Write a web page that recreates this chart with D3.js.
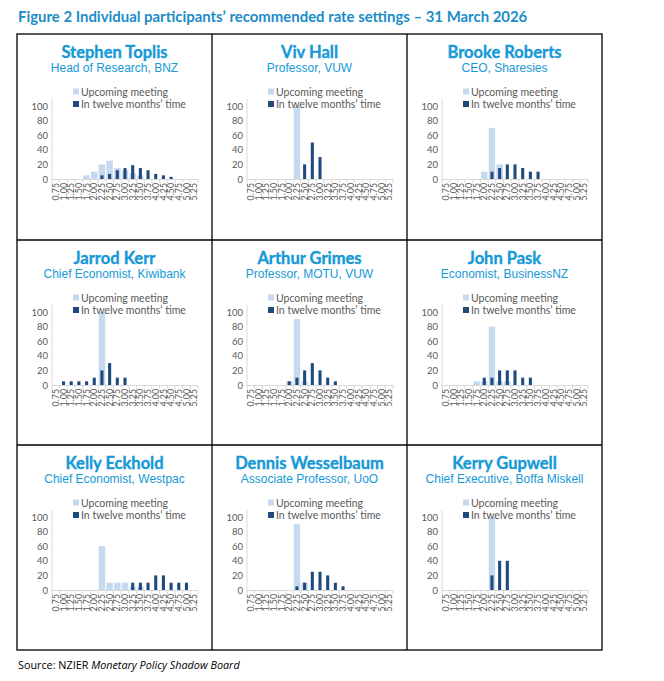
<!DOCTYPE html>
<html>
<head>
<meta charset="utf-8">
<script src="https://cdn.jsdelivr.net/npm/d3@7"></script>
<style>
  html, body { margin: 0; padding: 0; background: #fff; }
  svg { display: block; }
</style>
</head>
<body>
<svg id="chart" width="664" height="681"></svg>
<script>
// ---------- DATA ----------
const rates = ["0.75","1.00","1.25","1.50","1.75","2.00","2.25","2.50","2.75","3.00",
               "3.25","3.50","3.75","4.00","4.25","4.50","4.75","5.00","5.25"];
const yTicks = [0, 20, 40, 60, 80, 100];
const seriesNames = ["Upcoming meeting", "In twelve months\u2019 time"];
const names = ["Stephen Toplis", "Viv Hall", "Brooke Roberts",
               "Jarrod Kerr", "Arthur Grimes", "John Pask",
               "Kelly Eckhold", "Dennis Wesselbaum", "Kerry Gupwell"];
const roles = ["Head of Research, BNZ", "Professor, VUW", "CEO, Sharesies",
               "Chief Economist, Kiwibank", "Professor, MOTU, VUW", "Economist, BusinessNZ",
               "Chief Economist, Westpac", "Associate Professor, UoO", "Chief Executive, Boffa Miskell"];
//                 0.75 1.00 1.25 1.50 1.75 2.00 2.25 2.50 2.75 3.00 3.25 3.50 3.75 4.00 4.25 4.50 4.75 5.00 5.25
const upcoming = [
  [0,0,0,0, 5,10,20,25,15,12, 8, 5, 0, 0, 0, 0, 0, 0, 0],
  [0,0,0,0, 0, 0,100,0, 0, 0, 0, 0, 0, 0, 0, 0, 0, 0, 0],
  [0,0,0,0, 0,10,70,20, 0, 0, 0, 0, 0, 0, 0, 0, 0, 0, 0],
  [0,0,0,0, 0, 0,100,0, 0, 0, 0, 0, 0, 0, 0, 0, 0, 0, 0],
  [0,0,0,0, 0, 5,90, 5, 0, 0, 0, 0, 0, 0, 0, 0, 0, 0, 0],
  [0,0,0,0, 5, 5,80, 5, 5, 0, 0, 0, 0, 0, 0, 0, 0, 0, 0],
  [0,0,0,0, 0, 0,60,10,10,10, 5, 5, 0, 0, 0, 0, 0, 0, 0],
  [0,0,0,0, 0, 0,90,10, 0, 0, 0, 0, 0, 0, 0, 0, 0, 0, 0],
  [0,0,0,0, 0, 0,100,0, 0, 0, 0, 0, 0, 0, 0, 0, 0, 0, 0]
];
const twelveMonths = [
  [0,0,0,0, 0, 0, 5, 7,12,15,19,15,12, 7, 5, 3, 0, 0, 0],
  [0,0,0,0, 0, 0, 0,20,50,30, 0, 0, 0, 0, 0, 0, 0, 0, 0],
  [0,0,0,0, 0, 0,10,15,20,20,15,10,10, 0, 0, 0, 0, 0, 0],
  [0,5,5,5, 5,10,20,30,10,10, 0, 0, 0, 0, 0, 0, 0, 0, 0],
  [0,0,0,0, 0, 5,10,20,30,20,10, 5, 0, 0, 0, 0, 0, 0, 0],
  [0,0,0,0, 0,10,10,20,20,20,10,10, 0, 0, 0, 0, 0, 0, 0],
  [0,0,0,0, 0, 0, 0, 0, 0, 0,10,10,10,20,20,10,10,10, 0],
  [0,0,0,0, 0, 0, 5,10,25,25,20,10, 5, 0, 0, 0, 0, 0, 0],
  [0,0,0,0, 0, 0,20,40,40, 0, 0, 0, 0, 0, 0, 0, 0, 0, 0]
];
const titleText = "Figure 2 Individual participants\u2019 recommended rate settings \u2013 31 March 2026";

// ---------- STYLE / LAYOUT ----------
const blue = "#1699d6";
const lightBar = "#c6d9f0";
const darkBar = "#1f4a7c";
const axisGrey = "#d9d9d9";
const labelGrey = "#595959";
const colX = [17, 212, 407];
const rowY = [34, 240, 445];
const cellW = 195, bottomY = 650;

const svg = d3.select("#chart");

// Title
const title = svg.append("text")
  .attr("x", 18).attr("y", 22)
  .attr("font-family", "Lato, 'Open Sans', sans-serif")
  .attr("font-weight", "bold")
  .attr("font-size", 15)
  .attr("fill", "#1b8cc8")
  .text(titleText);
const tw = title.node().getComputedTextLength();
title.attr("font-size", 15 * 510 / tw);

// Grid borders
const gridG = svg.append("g").attr("stroke", "#000").attr("stroke-width", 1.3).attr("fill", "none");
gridG.append("rect").attr("x", colX[0]).attr("y", rowY[0])
  .attr("width", colX[2] + cellW - colX[0]).attr("height", bottomY - rowY[0]);
[colX[1], colX[2]].forEach(x => gridG.append("line").attr("x1", x).attr("x2", x).attr("y1", rowY[0]).attr("y2", bottomY));
[rowY[1], rowY[2]].forEach(y => gridG.append("line").attr("y1", y).attr("y2", y).attr("x1", colX[0]).attr("x2", colX[2] + cellW));

// Panels
names.forEach((name, i) => {
  const px = colX[i % 3], py = rowY[Math.floor(i / 3)];
  const g = svg.append("g").attr("transform", `translate(${px},${py})`);

  g.append("text").attr("x", cellW / 2).attr("y", 23.5)
    .attr("text-anchor", "middle")
    .attr("font-family", "Lato, sans-serif").attr("font-weight", "bold")
    .attr("font-size", 16.5).attr("fill", blue)
    .attr("stroke", blue).attr("stroke-width", 0.35)
    .text(name);
  g.append("text").attr("x", cellW / 2).attr("y", 38)
    .attr("text-anchor", "middle")
    .attr("font-family", "'Liberation Sans', Arial, sans-serif")
    .attr("font-size", 12).attr("fill", blue).text(roles[i]);

  const left = 35, right = 181, y0 = 145, y100 = 72;
  const x = d3.scaleBand().domain(rates).range([left, right]).paddingInner(0).paddingOuter(0);
  const y = d3.scaleLinear().domain([0, 100]).range([y0, y100]);
  const bw = x.bandwidth();

  // light bars
  g.append("g").selectAll("rect").data(upcoming[i].map((v, k) => ({r: rates[k], v})).filter(d => d.v > 0))
    .join("rect")
    .attr("x", d => x(d.r) + bw * 0.08).attr("width", bw * 0.84)
    .attr("y", d => y(d.v)).attr("height", d => y0 - y(d.v))
    .attr("fill", lightBar);
  // dark bars
  g.append("g").selectAll("rect").data(twelveMonths[i].map((v, k) => ({r: rates[k], v})).filter(d => d.v > 0))
    .join("rect")
    .attr("x", d => x(d.r) + bw * 0.3).attr("width", bw * 0.4)
    .attr("y", d => y(d.v)).attr("height", d => y0 - y(d.v))
    .attr("fill", darkBar);

  // y axis
  const yAx = g.append("g").attr("transform", `translate(${left},0)`)
    .call(d3.axisLeft(y).tickValues(yTicks).tickSize(0).tickPadding(4));
  yAx.select(".domain").remove();
  yAx.append("line").attr("x1", 0).attr("x2", 0).attr("y1", y0).attr("y2", y(110))
    .attr("stroke", axisGrey).attr("stroke-width", 1);
  yAx.selectAll("text").attr("font-family", "Lato, 'Open Sans', sans-serif")
    .attr("font-size", 9.5).attr("fill", labelGrey);

  // x axis
  const xAx = g.append("g").attr("transform", `translate(0,${y0})`)
    .call(d3.axisBottom(x).tickSize(0).tickPadding(0));
  xAx.select(".domain").attr("stroke", axisGrey).attr("d", `M${left},0.5H${right}`);
  xAx.selectAll(".tick line").remove();
  xAx.append("g").selectAll("line").data(rates.concat(["end"]))
    .join("line")
    .attr("x1", (d, k) => left + k * bw).attr("x2", (d, k) => left + k * bw)
    .attr("y1", 0).attr("y2", 4).attr("stroke", axisGrey);
  xAx.selectAll(".tick text")
    .attr("font-family", "Lato, 'Open Sans', sans-serif")
    .attr("font-size", 8.8).attr("fill", labelGrey)
    .attr("text-anchor", "end")
    .attr("dy", "0.35em")
    .attr("transform", "translate(0,4) rotate(-90)");

  // legend
  const lg = g.append("g").attr("transform", "translate(56,0)");
  [lightBar, darkBar].forEach((c, k) => {
    const ly = 58 + k * 12.5;
    lg.append("rect").attr("x", 0).attr("y", ly - 3.5).attr("width", 6).attr("height", 6).attr("fill", c);
    lg.append("text").attr("x", 8).attr("y", ly).attr("dy", "0.35em")
      .attr("font-family", "Lato, 'Open Sans', sans-serif")
      .attr("font-size", 10.5).attr("fill", labelGrey).text(seriesNames[k]);
  });
});

// Source
const src = svg.append("text").attr("x", 18).attr("y", 669)
  .attr("font-family", "'Open Sans', Lato, sans-serif").attr("font-size", 10.8).attr("fill", "#000");
src.append("tspan").text("Source: NZIER ");
src.append("tspan").attr("font-style", "italic").text("Monetary Policy Shadow Board");
</script>
</body>
</html>
